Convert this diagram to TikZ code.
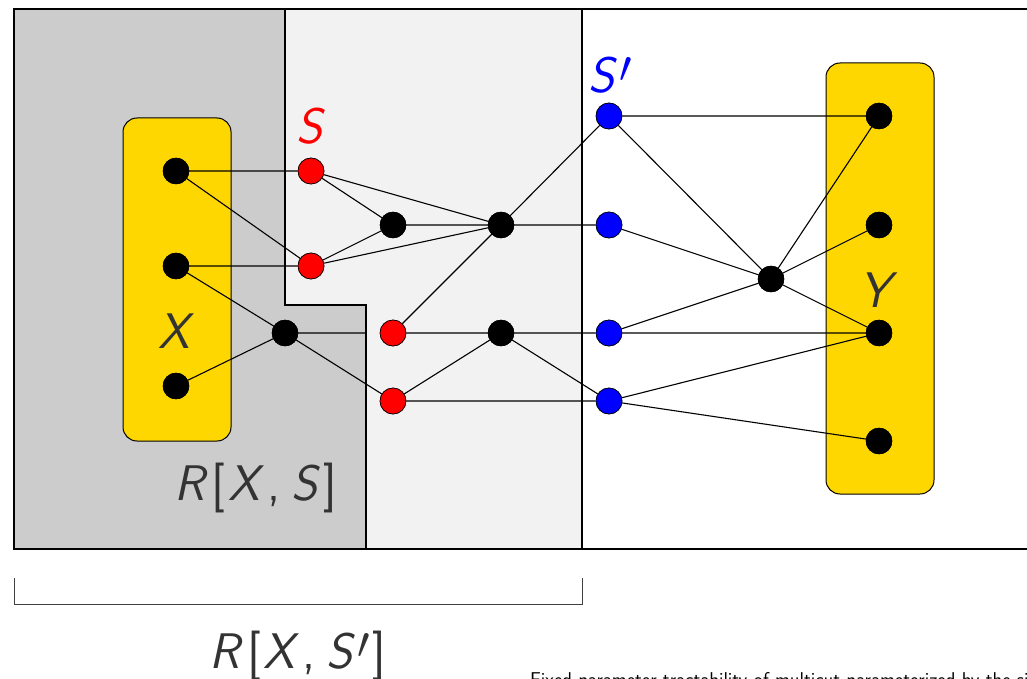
\documentclass[tikz,border=0pt]{standalone}
\usepackage{graphicx}
\usetikzlibrary{calc}
\definecolor{darkregion}{HTML}{CCCCCC}
\definecolor{lightregion}{HTML}{F2F2F2}
\definecolor{terminal}{HTML}{FFD700}
\definecolor{labelgray}{HTML}{333333}
% italic sans letters and upright sans punctuation, spaced like a formula
\newcommand{\iv}[1]{\textit{#1}}
\newcommand{\pr}{\hspace{0.03em}\raisebox{0.2em}{\scalebox{1.8}{$\prime$}}}
\newcommand{\gap}{\hspace{0.06em}}
\tikzset{
  vtx/.style={circle,draw=black,fill=black,inner sep=0pt,minimum size=26pt},
  redvtx/.style={vtx,fill=red,line width=0.6pt},
  bluevtx/.style={vtx,fill=blue,line width=0.6pt},
  edge/.style={line width=1.1pt},
  bigtext/.style={font=\sffamily\fontsize{50}{52}\selectfont,inner sep=0pt},
  termbox/.style={draw=black,line width=1pt,fill=terminal,rounded corners=14pt}
}
\begin{document}
\begin{tikzpicture}[x=1pt,y=-1pt]
\useasboundingbox (0,0) rectangle (1027,679);
\clip (0,0) rectangle (1027,679);

% regions R[X,S] and R[X,S'] inside the frame
\fill[white] (14,9) rectangle (1040,549);
\fill[lightregion] (285,9) rectangle (582,549);
\fill[darkregion] (14,9) -- (285,9) -- (285,305) -- (366,305) -- (366,549) -- (14,549) -- cycle;
\draw[line width=1.2pt] (285,9) -- (285,305) -- (366,305) -- (366,549);
\draw[line width=1.2pt] (582,9) -- (582,549);
\draw[line width=1.4pt] (1040,9) -- (14,9) -- (14,549) -- (1040,549);

% terminal sets
\node[termbox,minimum width=108pt,minimum height=323pt,inner sep=0pt] (Xbox) at (177,279.5) {};
\node[termbox,minimum width=108pt,minimum height=431pt,inner sep=0pt] (Ybox) at (880,278.5) {};

% vertices
\node[vtx] (x1) at (176,171) {};
\node[vtx] (x2) at (176,266) {};
\node[vtx] (x3) at (176,386) {};
\node[vtx] (a) at (285,333) {};
\node[redvtx] (r1) at (311,171) {};
\node[redvtx] (r2) at (311,266) {};
\node[redvtx] (r3) at (393,333) {};
\node[redvtx] (r4) at (393,401) {};
\node[vtx] (b) at (393,225) {};
\node[vtx] (c) at (501,225) {};
\node[vtx] (d) at (501,333) {};
\node[bluevtx] (s1) at (609,116) {};
\node[bluevtx] (s2) at (609,225) {};
\node[bluevtx] (s3) at (609,333) {};
\node[bluevtx] (s4) at (609,401) {};
\node[vtx] (e) at (771,279) {};
\node[vtx] (y1) at (879,116) {};
\node[vtx] (y2) at (879,225) {};
\node[vtx] (y3) at (879,333) {};
\node[vtx] (y4) at (879,441) {};
\coordinate (cut) at (366,333);

% edges
\draw[edge] (x1) -- (r1) (x1) -- (r2) (x2) -- (r2) (x2) -- (a) (x3) -- (a)
  (a) -- (r4) (a) -- (cut)
  (r1) -- (b) (r1) -- (c) (r2) -- (b) (r2) -- (c) (b) -- (c)
  (c) -- (r3) (c) -- (s1) (c) -- (s2)
  (r3) -- (d) (r4) -- (d) (r4) -- (s4) (d) -- (s3) (d) -- (s4)
  (s1) -- (y1) (s1) -- (e) (s2) -- (e) (s3) -- (e) (s3) -- (y3)
  (s4) -- (y3) (s4) -- (y4)
  (e) -- (y1) (e) -- (y2) (e) -- (y3);

% redraw vertices above the edges
\foreach \v in {x1,x2,x3,a,b,c,d,e,y1,y2,y3,y4}
  \node[vtx] at (\v) {};
\foreach \v in {r1,r2,r3,r4}
  \node[redvtx] at (\v) {};
\foreach \v in {s1,s2,s3,s4}
  \node[bluevtx] at (\v) {};

% labels
\node[bigtext,text=red] (lS) at (311,126) {\iv{S}};
\node[bigtext,text=blue,anchor=base] (lSp) at (610,93) {\iv{S}\pr};
\node[bigtext,text=labelgray] (lX) at (176,331) {\iv{X}};
\node[bigtext,text=labelgray] (lY) at (879,290) {\iv{Y}};
\node[bigtext,text=labelgray] (lRS) at (256,488) {\iv{R}\gap[\gap\iv{X}\gap,\hspace{0.22em}\iv{S}\gap]};

% bracket for R[X,S']
\coordinate (bl) at (14,578);
\coordinate (br) at (582,578);
\draw[line width=0.8pt,black!75] (bl) -- ++(0,26) -| (br);
\node[bigtext,text=labelgray,anchor=base] (lRSp) at (298,668) {\iv{R}\gap[\gap\iv{X}\gap,\hspace{0.22em}\iv{S}\pr\gap]};

% footer
\node[anchor=base west,inner sep=0pt,font=\sffamily\fontsize{20}{22}\selectfont] (foot) at (530,686) {Fixed-parameter tractability of multicut parameterized by the size of the cutset};
\end{tikzpicture}
\end{document}
